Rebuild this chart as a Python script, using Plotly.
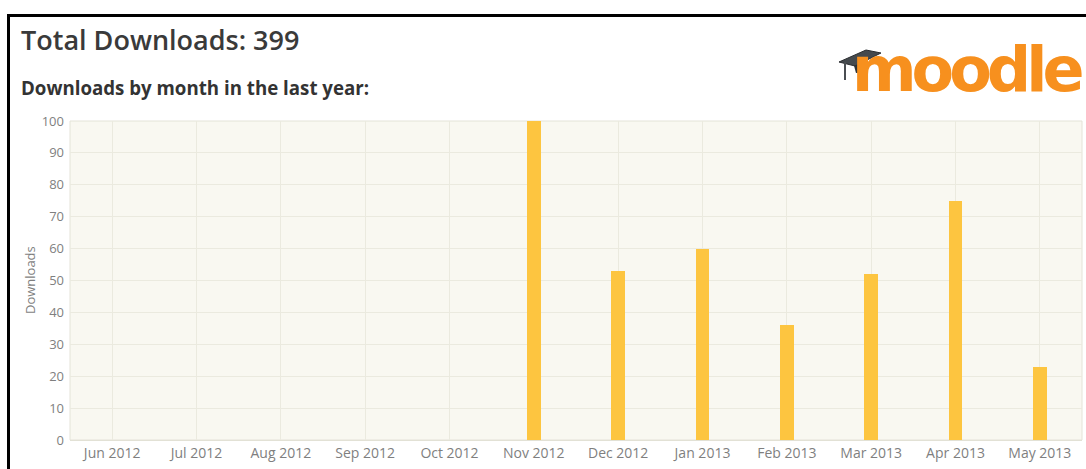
import plotly.graph_objects as go

# Monthly download counts for the last year
months = ["Jun 2012", "Jul 2012", "Aug 2012", "Sep 2012", "Oct 2012", "Nov 2012",
          "Dec 2012", "Jan 2013", "Feb 2013", "Mar 2013", "Apr 2013", "May 2013"]
downloads = [0, 0, 0, 0, 0, 100, 53, 60, 36, 52, 75, 23]
y_ticks = [0, 10, 20, 30, 40, 50, 60, 70, 80, 90, 100]

total = sum(downloads)

W, H = 1086, 469
L, R, T, B = 70, 4, 121, 29
PW, PH = W - L - R, H - T - B


def px(x):
    """pixel x -> paper x"""
    return (x - L) / PW


def py(y):
    """pixel y (from top) -> paper y"""
    return (H - B - y) / PH


def path(points):
    pts = [f"{px(x):.5f},{py(y):.5f}" for x, y in points]
    return "M " + " L ".join(pts) + " Z"


fig = go.Figure()
fig.add_trace(go.Bar(
    x=months, y=downloads, width=0.165,
    marker=dict(color="#fdc540", line=dict(width=0)),
    hoverinfo="x+y",
))

grid = "#ebeadf"
FONT = "Open Sans, DejaVu Sans, sans-serif"

fig.update_layout(
    width=W, height=H,
    margin=dict(l=L, r=R, t=T, b=B, pad=0),
    paper_bgcolor="#ffffff",
    plot_bgcolor="#f9f8f1",
    showlegend=False,
    bargap=0,
    xaxis=dict(
        type="category", range=[-0.5, 11.5],
        showgrid=True, gridcolor=grid, gridwidth=1,
        showline=False, ticks="",
        tickfont=dict(family=FONT, size=14, color="#7f7f7f"),
        ticklabelstandoff=3,
        fixedrange=True,
    ),
    yaxis=dict(
        range=[0, 100], tickvals=y_ticks,
        showgrid=True, gridcolor=grid, gridwidth=1,
        zeroline=True, zerolinecolor="#e2e1d5", zerolinewidth=1,
        showline=False, ticks="",
        tickfont=dict(family=FONT, size=13, color="#7f7f7f"),
        ticklabelstandoff=5,
        fixedrange=True,
    ),
)

shapes = []
# plot frame
shapes.append(dict(type="rect", xref="paper", yref="paper", x0=0, x1=1, y0=0, y1=1,
                   line=dict(color="#e4e3d8", width=1), fillcolor="rgba(0,0,0,0)", layer="below"))
# black page border (top and left)
shapes.append(dict(type="rect", xref="paper", yref="paper",
                   x0=px(7), x1=px(W + 2), y0=py(17), y1=py(14),
                   line=dict(width=0), fillcolor="#000000"))
shapes.append(dict(type="rect", xref="paper", yref="paper",
                   x0=px(7), x1=px(10), y0=py(H + 2), y1=py(14),
                   line=dict(width=0), fillcolor="#000000"))

annotations = [
    dict(text=f"Total Downloads: {total}", xref="paper", yref="paper",
         x=px(19), y=py(40), xanchor="left", yanchor="middle", showarrow=False,
         font=dict(family=FONT, size=27, weight=600, color="#3a3a3a")),
    dict(text="<b>Downloads by month in the last year:</b>", xref="paper", yref="paper",
         x=px(19), y=py(87), xanchor="left", yanchor="middle", showarrow=False,
         font=dict(family=FONT, size=18.7, color="#333333")),
    dict(text="Downloads", xref="paper", yref="paper",
         x=px(30), y=py(280), xanchor="center", yanchor="middle", showarrow=False,
         textangle=-90,
         font=dict(family=FONT, size=13, color="#7f7f7f")),
    # moodle wordmark
    dict(text="<span style='letter-spacing:-5px'><b>moodle</b></span>",
         xref="paper", yref="paper",
         x=px(850), y=py(70), xanchor="left", yanchor="middle", showarrow=False,
         font=dict(family="DejaVu Sans, sans-serif", size=62, color="#f7901e")),
]

# mortarboard cap over the wordmark
shapes.append(dict(type="path", xref="paper", yref="paper",
                   path=path([(853, 62), (868, 60), (867, 72), (856, 73)]),
                   fillcolor="#2f3336", line=dict(width=0)))
shapes.append(dict(type="path", xref="paper", yref="paper",
                   path=path([(839, 62), (866, 50), (881, 53), (855, 66)]),
                   fillcolor="#44494d", line=dict(color="#2a2d30", width=1)))
shapes.append(dict(type="line", xref="paper", yref="paper",
                   x0=px(845), x1=px(845), y0=py(62), y1=py(80),
                   line=dict(color="#4a4e52", width=2)))

fig.update_layout(shapes=shapes, annotations=annotations)

fig.write_html("out.html")
